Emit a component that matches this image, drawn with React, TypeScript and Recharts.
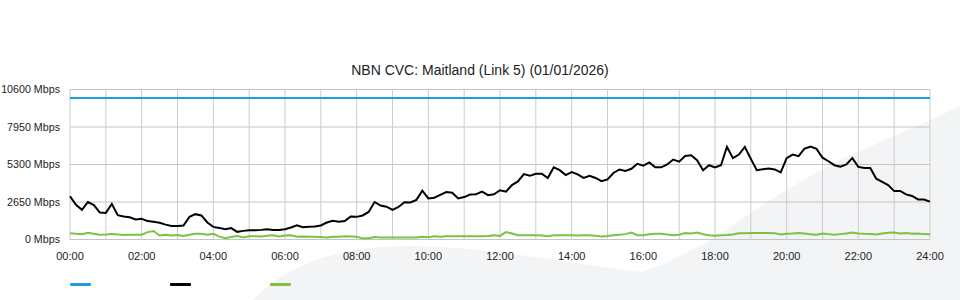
import React from 'react';
import { LineChart, Line, XAxis, YAxis, CartesianGrid, ReferenceLine, Legend } from 'recharts';

// 10-minute samples from 00:00 to 24:00 (145 points)
const usageMbps = [
  3060, 2450, 2100, 2650, 2430, 1900, 1880, 2520, 1720, 1620, 1570, 1420,
  1470, 1300, 1250, 1180, 1050, 950, 960, 990, 1600, 1790, 1700, 1200,
  890, 820, 720, 810, 540, 610, 650, 660, 680, 720, 680, 680,
  730, 850, 1000, 870, 900, 920, 990, 1200, 1320, 1260, 1300, 1620,
  1600, 1700, 1950, 2650, 2400, 2320, 2100, 2300, 2640, 2620, 2800, 3450,
  2900, 2950, 3150, 3350, 3300, 2900, 3000, 3180, 3200, 3380, 3130, 3200,
  3480, 3380, 3850, 4100, 4620, 4500, 4650, 4650, 4350, 5100, 4900, 4550,
  4770, 4600, 4350, 4500, 4350, 4120, 4250, 4700, 4950, 4850, 5000, 5350,
  5220, 5450, 5100, 5100, 5300, 5650, 5500, 5900, 5950, 5600, 4900, 5250,
  5100, 5250, 6550, 5750, 6000, 6540, 5700, 4900, 4970, 5020, 4950, 4740,
  5750, 6000, 5890, 6430, 6560, 6400, 5780, 5530, 5250, 5150, 5300, 5750,
  5130, 5060, 5050, 4300, 4070, 3840, 3420, 3430, 3190, 3080, 2830, 2830,
  2680,
];

const uploadMbps = [
  450, 400, 380, 480, 400, 330, 350, 380, 350, 320, 340, 330,
  340, 520, 600, 280, 330, 280, 320, 250, 330, 410, 400, 340,
  400, 200, 90, 170, 240, 150, 230, 230, 220, 260, 300, 210,
  280, 300, 200, 210, 200, 200, 180, 150, 190, 200, 230, 220,
  200, 80, 90, 180, 150, 140, 140, 140, 140, 140, 140, 200,
  160, 230, 190, 230, 230, 230, 230, 230, 230, 230, 240, 300,
  250, 520, 420, 300, 300, 300, 300, 280, 230, 300, 300, 300,
  300, 290, 300, 300, 270, 220, 250, 300, 340, 380, 490, 300,
  300, 370, 400, 400, 350, 300, 340, 450, 420, 490, 370, 300,
  260, 300, 320, 350, 440, 450, 460, 460, 460, 460, 450, 360,
  400, 420, 460, 430, 370, 330, 420, 380, 330, 380, 420, 500,
  430, 400, 380, 350, 430, 470, 490, 430, 460, 400, 420, 380,
  370,
];

const capacityMbps = 10000;

const yTicks = [0, 2650, 5300, 7950, 10600];
const xTicks = [0, 2, 4, 6, 8, 10, 12, 14, 16, 18, 20, 22, 24];
const hourLines = [0, 1, 2, 3, 4, 5, 6, 7, 8, 9, 10, 11, 12, 13, 14, 15, 16, 17, 18, 19, 20, 21, 22, 23, 24];

const title = 'NBN CVC: Maitland (Link 5) (01/01/2026)';

const data = usageMbps.map((v, i) => ({
  t: i / 6,
  capacity: capacityMbps,
  usage: v,
  upload: uploadMbps[i],
}));

const COLORS = { capacity: '#1a9fe0', usage: '#000000', upload: '#7cc142' };
const FONT = '"Liberation Sans", Arial, Helvetica, sans-serif';

const pad2 = (n: number) => (n < 10 ? '0' + n : '' + n);

const YTick = (props: any) => {
  const { x, y, payload } = props;
  return (
    <text x={x} y={y} dy="0.355em" textAnchor="end" fontSize={10.7} fill="#222" fontFamily={FONT}>
      {payload.value + ' Mbps'}
    </text>
  );
};

const XTick = (props: any) => {
  const { x, y, payload } = props;
  return (
    <text x={x} y={y} dy="0.71em" textAnchor="middle" fontSize={11} fill="#222" fontFamily={FONT}>
      {pad2(payload.value) + ':00'}
    </text>
  );
};

const LegendSwatches = () => (
  <div style={{ position: 'relative', height: 6 }}>
    {(['capacity', 'usage', 'upload'] as const).map((k, i) => (
      <div
        key={k}
        style={{
          position: 'absolute',
          left: i * 100,
          top: 0,
          width: 21,
          height: 3,
          background: COLORS[k],
          borderRadius: 1,
        }}
      />
    ))}
  </div>
);

export default function App() {
  return (
    <div style={{ position: 'absolute', left: 0, top: 0, width: 960, height: 300, background: '#fff', fontFamily: FONT, overflow: 'hidden' }}>
      <svg width={960} height={300} style={{ position: 'absolute', left: 0, top: 0 }}>
        <path
          d="M253,300 C290,262 340,246 410,246 C480,246 560,262 640,272 C665,266 690,250 707,243 C740,220 780,192 834,163 C870,146 910,130 960,106 L960,300 Z"
          fill="#f3f4f6"
        />
      </svg>
      <div
        style={{
          position: 'absolute',
          left: 0,
          width: 960,
          top: 61,
          textAlign: 'center',
          fontSize: 14,
          color: '#222',
          lineHeight: '18px',
        }}
      >
        {title}
      </div>
      <div style={{ position: 'absolute', left: 0, top: 0 }}>
        <LineChart
          width={960}
          height={300}
          data={data}
          margin={{ top: 89.5, right: 30, bottom: 30.5, left: 0 }}
          style={{ fontFamily: FONT }}
        >
          <CartesianGrid vertical={false} stroke="#c4c4c4" strokeWidth={1} />
          {hourLines.map((h) => (
            <ReferenceLine key={h} x={h} stroke="#cccccc" strokeWidth={1} ifOverflow="visible" />
          ))}
          <XAxis
            dataKey="t"
            type="number"
            domain={[0, 24]}
            ticks={xTicks}
            height={30}
            axisLine={false}
            tickLine={false}
            tickSize={10}
            tickMargin={3}
            tick={<XTick />}
            interval={0}
          />
          <YAxis
            type="number"
            domain={[0, 10600]}
            ticks={yTicks}
            width={70}
            axisLine={false}
            tickLine={false}
            tickSize={8}
            tickMargin={2}
            tick={<YTick />}
            interval={0}
          />
          <Legend
            layout="horizontal"
            verticalAlign="middle"
            align="center"
            wrapperStyle={{ left: 70, top: 283, width: 300 }}
            content={() => <LegendSwatches />}
          />
          <Line dataKey="capacity" stroke={COLORS.capacity} strokeWidth={2} dot={false} isAnimationActive={false} />
          <Line dataKey="upload" stroke={COLORS.upload} strokeWidth={2} dot={false} isAnimationActive={false} />
          <Line dataKey="usage" stroke={COLORS.usage} strokeWidth={2} dot={false} isAnimationActive={false} />
        </LineChart>
      </div>
    </div>
  );
}
